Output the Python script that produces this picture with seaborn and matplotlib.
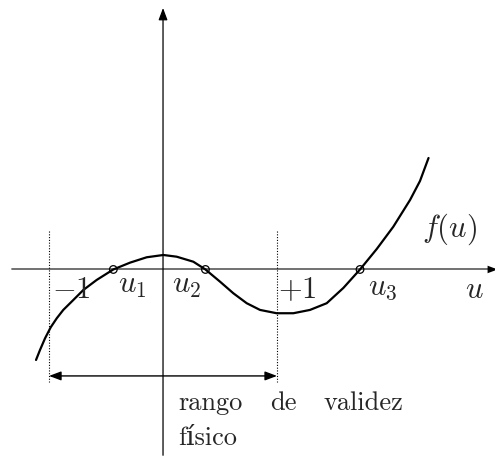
import matplotlib
matplotlib.use('Agg')
import seaborn as sns
import matplotlib.pyplot as plt

# puntos de la curva f(u)
u_pts = [-1.114, -1.079, -1.035, -0.985, -0.932, -0.875, -0.787, -0.699, -0.582,
         -0.436, -0.289, -0.143, 0.003, 0.120, 0.266, 0.372, 0.500, 0.617, 0.734,
         0.851, 0.997, 1.143, 1.289, 1.436, 1.582, 1.728, 1.875, 2.020, 2.167,
         2.254, 2.329]
f_pts = [-0.794, -0.706, -0.604, -0.507, -0.428, -0.355, -0.268, -0.180, -0.092,
         0.0, 0.060, 0.107, 0.127, 0.112, 0.068, 0.0, -0.107, -0.209, -0.296,
         -0.355, -0.384, -0.384, -0.355, -0.296, -0.162, 0.0, 0.180, 0.375, 0.610,
         0.776, 0.978]

# raices
roots = [-0.436, 0.372, 1.728]
root_labels = ['$u_1$', '$u_2$', '$u_3$']

# limites del rango fisico
limits = [-1, 1]
limit_labels = ['$-1$', '$+1$']

sns.set_style('white')
plt.rcParams['mathtext.fontset'] = 'cm'
plt.rcParams['font.family'] = ['cmr10', 'DejaVu Serif']

fig = plt.figure(figsize=(4.95, 4.58), dpi=100)
ax = fig.add_axes([0, 0, 1, 1])
ax.set_xlim(-1.430, 2.912)
ax.set_ylim(-1.654, 2.364)
ax.axis('off')

head = '-|>,head_length=0.4,head_width=0.15'

# ejes
ax.plot([-1.325, 2.90], [0, 0], color='#666666', lw=1.3)
ax.annotate('', xy=(2.935, 0), xytext=(2.80, 0), annotation_clip=False,
            arrowprops=dict(arrowstyle=head, color='black', lw=0.01,
                            shrinkA=0, shrinkB=0, mutation_scale=18))
ax.annotate('', xy=(0, 2.294), xytext=(0, -1.63), annotation_clip=False,
            arrowprops=dict(arrowstyle=head, color='black', lw=0.9,
                            shrinkA=0, shrinkB=0, mutation_scale=18))

# lineas punteadas en -1 y +1
for x in limits:
    ax.plot([x, x], [0.337, -0.99], color='black', lw=0.8, linestyle=(0, (1, 1.5)))

# curva
sns.lineplot(x=u_pts, y=f_pts, sort=False, estimator=None, color='black',
             linewidth=1.6, ax=ax, solid_joinstyle='round')

# raices
sns.scatterplot(x=roots, y=[0] * len(roots), ax=ax, s=30, facecolor='none',
                edgecolor='black', linewidth=0.9, zorder=5)

# flecha doble del rango
ax.annotate('', xy=(limits[1], -0.934), xytext=(limits[0], -0.934),
            arrowprops=dict(arrowstyle='<|-|>,head_length=0.4,head_width=0.15',
                            color='black', lw=1.0, shrinkA=0, shrinkB=0,
                            mutation_scale=18))

# etiquetas
fs = 22
ax.text(-0.974, -0.25, limit_labels[0], fontsize=fs, ha='left', va='baseline')
ax.text(1.009, -0.25, limit_labels[1], fontsize=fs, ha='left', va='baseline')
ax.text(-0.395, -0.206, root_labels[0], fontsize=fs, ha='left', va='baseline')
ax.text(0.079, -0.206, root_labels[1], fontsize=fs, ha='left', va='baseline')
ax.text(1.798, -0.224, root_labels[2], fontsize=fs, ha='left', va='baseline')
ax.text(2.649, -0.25, '$u$', fontsize=fs, ha='left', va='baseline')
ax.text(2.272, 0.285, '$f(u)$', fontsize=fs, ha='left', va='baseline')

ts = 19
ax.text(0.132, -1.232, 'rango', fontsize=ts, ha='left', va='baseline')
ax.text(0.939, -1.232, 'de', fontsize=ts, ha='left', va='baseline')
ax.text(1.404, -1.232, 'validez', fontsize=ts, ha='left', va='baseline')
ax.text(0.132, -1.539, 'físico', fontsize=ts, ha='left', va='baseline')

plt.savefig('out.png', dpi=100)
plt.close()
